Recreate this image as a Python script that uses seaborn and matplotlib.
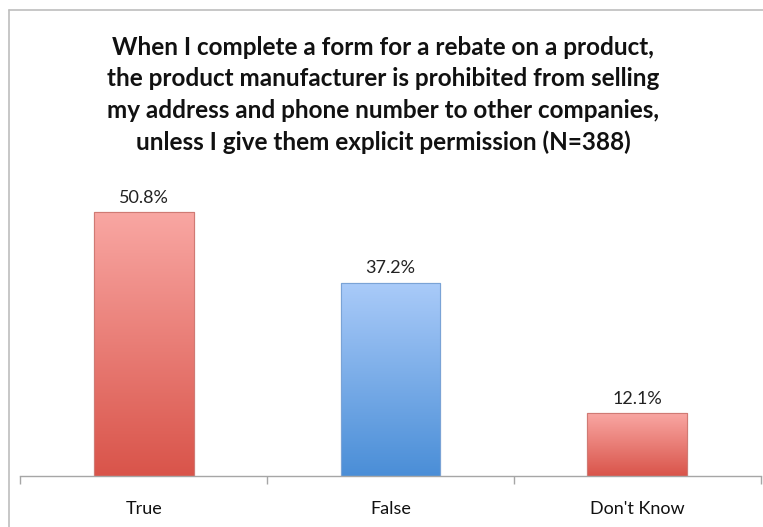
import numpy as np
import pandas as pd
import matplotlib
matplotlib.use("Agg")
import matplotlib.pyplot as plt
from matplotlib.colors import LinearSegmentedColormap
from matplotlib.patches import Rectangle
import seaborn as sns

categories = ["True", "False", "Don't Know"]
percentages = [50.8, 37.2, 12.1]
title = ("When I complete a form for a rebate on a product,\n"
         "the product manufacturer is prohibited from selling\n"
         "my address and phone number to other companies,\n"
         "unless I give them explicit permission (N=388)")

# top (light) and bottom (dark) colours of each bar's gradient
gradients = [("#F9A7A3", "#D9544A"), ("#AACBF9", "#4A8ED7"), ("#F9A7A3", "#D9544A")]
edges = ["#D07A74", "#7AA3D6", "#D07A74"]

sns.set_theme(style="white")
plt.rcParams["font.family"] = ["Lato", "DejaVu Sans"]

fig = plt.figure(figsize=(7.63, 5.27), dpi=100)
ax = fig.add_axes([20.5 / 763, 51 / 527, 740 / 763, 312 / 527])

df = pd.DataFrame({"category": categories, "pct": percentages})
sns.barplot(data=df, x="category", y="pct", ax=ax, width=0.405,
            color="#ffffff", saturation=1, linewidth=0.8)

ax.set_ylim(0, 60)
ax.set_xlim(-0.5, 2.5)

for patch, (top, bottom), ec, val in zip(ax.patches, gradients, edges, percentages):
    patch.set_edgecolor(ec)
    x0, y0 = patch.get_x(), patch.get_y()
    w, h = patch.get_width(), patch.get_height()
    cmap = LinearSegmentedColormap.from_list("g", [bottom, top])
    grad = np.linspace(0, 1, 256).reshape(-1, 1)
    im = ax.imshow(grad, cmap=cmap, origin="lower", aspect="auto",
                   extent=(x0, x0 + w, y0, y0 + h), zorder=patch.get_zorder() + 0.1)
    im.set_clip_path(patch)
    ax.add_patch(Rectangle((x0, y0), w, h, fill=False, edgecolor=ec,
                           linewidth=0.8, zorder=patch.get_zorder() + 0.2))
    ax.text(x0 + w / 2, y0 + h + 1.2, f"{val:.1f}%", ha="center", va="bottom",
            fontsize=13, color="#222222")

ax.set_xlim(-0.5, 2.5)
ax.set_ylim(0, 60)
ax.set_xlabel("")
ax.set_ylabel("")
ax.set_yticks([])
for side in ("top", "right", "left"):
    ax.spines[side].set_visible(False)
ax.spines["bottom"].set_color("#A6A6A6")
ax.spines["bottom"].set_linewidth(1.0)

# category boundaries carry the tick marks; labels sit at bar centres
ax.set_xticks([-0.5, 0.5, 1.5, 2.5])
ax.set_xticklabels([])
ax.set_xticks([0, 1, 2], minor=True)
ax.set_xticklabels(categories, minor=True, fontsize=13, color="#111111")
ax.tick_params(axis="x", which="major", bottom=True, length=6, width=1,
               color="#A6A6A6", direction="out")
ax.tick_params(axis="x", which="minor", bottom=False, pad=14)

fig.text(383 / 763, 1 - 95 / 527, title, ha="center", va="center",
         fontsize=17.5, fontweight="bold", linespacing=1.45, color="#111111")

# chart frame visible along the top and left edges
fig.add_artist(plt.Line2D([8.5 / 763, 8.5 / 763], [0, 1 - 9.5 / 527],
                          transform=fig.transFigure, color="#BEBEBE", linewidth=1.2))
fig.add_artist(plt.Line2D([8.5 / 763, 1], [1 - 9.5 / 527, 1 - 9.5 / 527],
                          transform=fig.transFigure, color="#BEBEBE", linewidth=1.2))

fig.savefig("out.png", dpi=100)
